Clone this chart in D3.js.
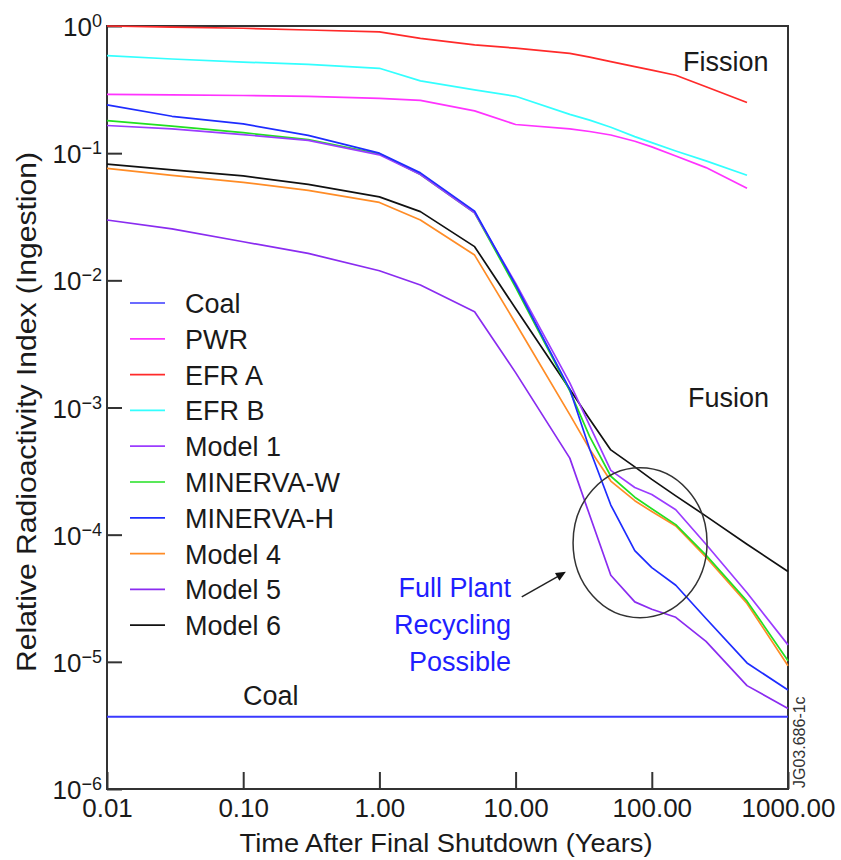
<!DOCTYPE html>
<html>
<head>
<meta charset="utf-8">
<script src="https://cdn.jsdelivr.net/npm/d3@7"></script>
<style>
  body { margin: 0; background: #fff; }
  text { font-family: "Liberation Sans", Arial, sans-serif; fill: #1a1a1a; }
</style>
</head>
<body>
<div id="chart"></div>
<script>
// time after shutdown (years), shared by every series
const years = [0.01, 0.03, 0.1, 0.3, 1, 2, 5, 10, 25, 35, 50, 75, 100, 150, 250, 500, 1000];

const coal     = [3.7e-6, 3.7e-6, 3.7e-6, 3.7e-6, 3.7e-6, 3.7e-6, 3.7e-6, 3.7e-6, 3.7e-6, 3.7e-6, 3.7e-6, 3.7e-6, 3.7e-6, 3.7e-6, 3.7e-6, 3.7e-6, 3.7e-6];
const pwr      = [0.29, 0.287, 0.284, 0.28, 0.27, 0.26, 0.215, 0.168, 0.155, 0.148, 0.139, 0.124, 0.112, 0.095, 0.077, 0.053, null];
const efrA     = [1.0, 0.98, 0.96, 0.93, 0.9, 0.8, 0.71, 0.67, 0.61, 0.57, 0.524, 0.479, 0.45, 0.41, 0.333, 0.25, null];
const efrB     = [0.585, 0.55, 0.52, 0.5, 0.465, 0.37, 0.315, 0.28, 0.202, 0.182, 0.16, 0.135, 0.121, 0.104, 0.087, 0.067, null];
const model1   = [0.165, 0.155, 0.14, 0.126, 0.097, 0.068, 0.034, 9.5e-3, 1.56e-3, 7.2e-4, 3.2e-4, 2.35e-4, 2.07e-4, 1.57e-4, 8.4e-5, 3.49e-5, 1.36e-5];
const minervaW = [0.18, 0.163, 0.145, 0.128, 0.099, 0.068, 0.034, 8.8e-3, 1.35e-3, 5.9e-4, 2.88e-4, 1.97e-4, 1.6e-4, 1.2e-4, 6.9e-5, 3.0e-5, 1.02e-5];
const minervaH = [0.24, 0.195, 0.17, 0.138, 0.1, 0.07, 0.035, 9.2e-3, 1.39e-3, 4.7e-4, 1.71e-4, 7.5e-5, 5.5e-5, 4.0e-5, 2.19e-5, 9.8e-6, 6.0e-6];
const model4   = [0.076, 0.067, 0.059, 0.051, 0.041, 0.0298, 0.0158, 4.6e-3, 8.8e-4, 4.7e-4, 2.64e-4, 1.85e-4, 1.52e-4, 1.17e-4, 6.65e-5, 2.88e-5, 9.3e-6];
const model5   = [0.0298, 0.0254, 0.0201, 0.0163, 0.0119, 9.2e-3, 5.67e-3, 1.88e-3, 4.0e-4, 1.42e-4, 4.8e-5, 2.96e-5, 2.59e-5, 2.24e-5, 1.45e-5, 6.5e-6, 4.3e-6];
const model6   = [0.082, 0.0738, 0.0662, 0.0569, 0.0453, 0.0347, 0.0184, 6.0e-3, 1.39e-3, 8.07e-4, 4.64e-4, 3.41e-4, 2.72e-4, 2.02e-4, 1.4e-4, 8.4e-5, 5.13e-5];

const seriesNames = ["Coal", "PWR", "EFR A", "EFR B", "Model 1", "MINERVA-W", "MINERVA-H", "Model 4", "Model 5", "Model 6"];
const seriesValues = [coal, pwr, efrA, efrB, model1, minervaW, minervaH, model4, model5, model6];
const seriesColors = ["#3a3aff", "#ff33ff", "#ff2a2a", "#33ffff", "#9b3cff", "#22e022", "#1e2cff", "#ff8c26", "#8a2cf0", "#111111"];

const xTicks = [0.01, 0.1, 1, 10, 100, 1000];
const xTickLabels = ["0.01", "0.10", "1.00", "10.00", "100.00", "1000.00"];
const yTickExps = [0, -1, -2, -3, -4, -5, -6];

const margin = {
        top: 26,
        right: 53,
        bottom: 71,
        left: 107
    },
    width = 841 - margin.left - margin.right,
    height = 860 - margin.top - margin.bottom;

let svg = d3
    .select('#chart')
    .append('svg')
    .attr('width', width + margin.left + margin.right)
    .attr('height', height + margin.top + margin.bottom);

let group = svg
    .append('g')
    .attr('transform', 'translate(' + margin.left + ',' + margin.top + ')');

const x = d3.scaleLog()
    .domain([0.01, 1000])
    .range([0, width]);

const y = d3.scaleLog()
    .domain([1e-6, 1])
    .range([height, 0]);

// x axis, ticks pointing into the plot
const xAxis = d3.axisBottom(x)
    .tickValues(xTicks)
    .tickSize(-17)
    .tickPadding(10)
    .tickFormat((d, i) => xTickLabels[i]);

group.append('g')
    .attr('transform', `translate(0, ${height})`)
    .call(xAxis)
    .attr('font-size', 26)
    .attr('font-family', '"Liberation Sans", Arial, sans-serif')
    .call(g => g.select('.domain').remove())
    .call(g => g.selectAll('line').attr('stroke', '#333').attr('stroke-width', 2))
    .call(g => g.selectAll('text').attr('fill', '#1a1a1a'));

// y axis with 10^n labels
const yAxis = d3.axisLeft(y)
    .tickValues(yTickExps.map(e => Math.pow(10, e)))
    .tickSize(-15)
    .tickFormat('');

group.append('g')
    .call(yAxis)
    .call(g => g.select('.domain').remove())
    .call(g => g.selectAll('line').attr('stroke', '#333').attr('stroke-width', 2));

const yLabels = group.selectAll('.ylab')
    .data(yTickExps)
    .enter()
    .append('text')
    .attr('class', 'ylab')
    .attr('x', -5)
    .attr('y', d => y(Math.pow(10, d)) + 10)
    .attr('text-anchor', 'end')
    .attr('font-size', 26);
yLabels.append('tspan').text('10');
yLabels.append('tspan')
    .attr('dy', -9)
    .attr('font-size', 18)
    .text(d => d === 0 ? '0' : '\u2212' + Math.abs(d));

// frame
group.append('rect')
    .attr('x', 0)
    .attr('y', 0)
    .attr('width', width)
    .attr('height', height)
    .attr('fill', 'none')
    .attr('stroke', '#333')
    .attr('stroke-width', 2);

// series lines
const line = d3.line()
    .defined(d => d.v != null)
    .x(d => x(d.t))
    .y(d => y(d.v));

const drawOrder = [0, 2, 3, 1, 9, 7, 8, 5, 4, 6];
drawOrder.forEach(i => {
    const pts = years.map((t, j) => ({ t: t, v: seriesValues[i][j] }));
    group.append('path')
        .datum(pts)
        .attr('fill', 'none')
        .attr('stroke', seriesColors[i])
        .attr('stroke-width', i === 0 ? 2 : 1.7)
        .attr('stroke-linejoin', 'round')
        .attr('d', line);
});

// legend
const legend = svg.append('g');
seriesNames.forEach((name, i) => {
    const ly = 303 + i * 35.8;
    legend.append('line')
        .attr('x1', 130).attr('x2', 165)
        .attr('y1', ly).attr('y2', ly)
        .attr('stroke', seriesColors[i])
        .attr('stroke-width', 1.7);
    legend.append('text')
        .attr('x', 185)
        .attr('y', ly + 10)
        .attr('font-size', 27)
        .text(name);
});

// axis titles
svg.append('text')
    .attr('x', 446)
    .attr('y', 852)
    .attr('text-anchor', 'middle')
    .attr('font-size', 26)
    .attr('textLength', 413)
    .attr('lengthAdjust', 'spacingAndGlyphs')
    .text('Time After Final Shutdown (Years)');

svg.append('text')
    .attr('transform', 'translate(36, 412) rotate(-90)')
    .attr('text-anchor', 'middle')
    .attr('font-size', 28)
    .attr('textLength', 520)
    .attr('lengthAdjust', 'spacingAndGlyphs')
    .text('Relative Radioactivity Index (Ingestion)');

// annotations
svg.append('text').attr('x', 683).attr('y', 71).attr('font-size', 27).text('Fission');
svg.append('text').attr('x', 688).attr('y', 407).attr('font-size', 27).text('Fusion');
svg.append('text').attr('x', 243).attr('y', 705).attr('font-size', 27).text('Coal');

const recycle = ['Full Plant', 'Recycling', 'Possible'];
recycle.forEach((s, i) => {
    svg.append('text')
        .attr('x', 511)
        .attr('y', 597 + i * 37)
        .attr('text-anchor', 'end')
        .attr('font-size', 27)
        .style('fill', '#1f1fff')
        .text(s);
});

group.append('ellipse')
    .attr('cx', x(82))
    .attr('cy', y(8.65e-5))
    .attr('rx', 67)
    .attr('ry', 75)
    .attr('fill', 'none')
    .attr('stroke', '#333')
    .attr('stroke-width', 1.5);

// arrow to the circle
const ax0 = x(11.1), ay0 = y(3.24e-5), ax1 = x(23.4), ay1 = y(5.1e-5);
const ang = Math.atan2(ay1 - ay0, ax1 - ax0);
group.append('line')
    .attr('x1', ax0).attr('y1', ay0)
    .attr('x2', ax1 - 6 * Math.cos(ang)).attr('y2', ay1 - 6 * Math.sin(ang))
    .attr('stroke', '#222')
    .attr('stroke-width', 1.5);
const head = [
    [ax1, ay1],
    [ax1 - 10 * Math.cos(ang) + 4.5 * Math.sin(ang), ay1 - 10 * Math.sin(ang) - 4.5 * Math.cos(ang)],
    [ax1 - 10 * Math.cos(ang) - 4.5 * Math.sin(ang), ay1 - 10 * Math.sin(ang) + 4.5 * Math.cos(ang)]
];
group.append('path')
    .attr('d', 'M' + head.map(p => p.join(',')).join('L') + 'Z')
    .attr('fill', '#111');

svg.append('text')
    .attr('transform', 'translate(805, 788) rotate(-90)')
    .attr('font-size', 16)
    .style('fill', '#333')
    .text('JG03.686-1c');
</script>
</body>
</html>
